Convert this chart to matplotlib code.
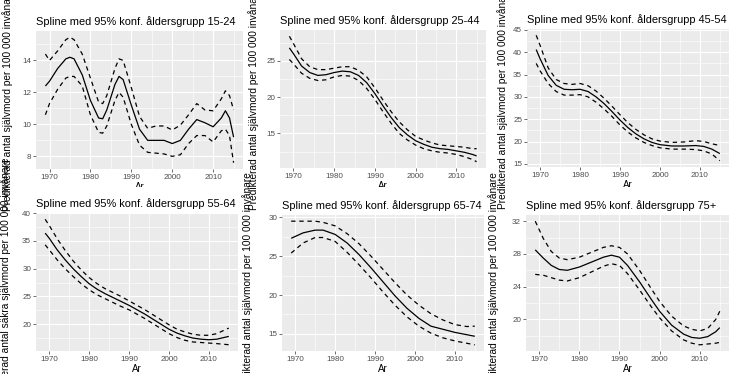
import matplotlib
matplotlib.use("Agg")
import matplotlib.pyplot as plt
from matplotlib.transforms import Bbox, TransformedBbox

plt.rcParams['font.family'] = ['Liberation Sans', 'DejaVu Sans']

# ---- data ----
years1524 = [1969, 1970, 1972, 1974, 1975, 1976, 1978, 1980, 1982, 1983, 1984, 1986, 1987, 1988, 1990,
             1992, 1994, 1996, 1998, 2000, 2002, 2004, 2006, 2008, 2010, 2012, 2013, 2014, 2015]
fit1524 = [12.4, 12.7, 13.5, 14.1, 14.2, 14.1, 13.1, 11.5, 10.4, 10.35, 10.9, 12.5, 13.0, 12.8, 11.2,
           9.7, 9.0, 9.0, 9.0, 8.8, 9.0, 9.7, 10.3, 10.1, 9.85, 10.4, 10.85, 10.4, 9.2]
upper1524 = [14.4, 14.0, 14.6, 15.3, 15.45, 15.3, 14.4, 12.9, 11.4, 11.3, 11.8, 13.5, 14.1, 14.0, 12.3,
             10.5, 9.75, 9.9, 9.9, 9.65, 9.95, 10.6, 11.3, 10.9, 10.85, 11.6, 12.1, 11.8, 10.9]
lower1524 = [10.6, 11.3, 12.2, 12.9, 13.0, 13.0, 12.4, 10.6, 9.5, 9.45, 9.9, 11.5, 12.0, 11.7, 10.0,
             8.7, 8.25, 8.2, 8.15, 8.0, 8.1, 8.8, 9.3, 9.3, 8.9, 9.6, 9.7, 9.3, 7.6]

years2544 = [1969, 1970, 1972, 1974, 1976, 1978, 1980, 1982, 1984, 1986, 1988, 1990, 1992, 1994, 1996,
             1998, 2000, 2002, 2004, 2006, 2008, 2010, 2012, 2014, 2015]
fit2544 = [26.8, 26.0, 24.3, 23.4, 23.0, 23.1, 23.4, 23.6, 23.5, 23.0, 22.0, 20.5, 18.8, 17.2, 15.8,
           14.8, 14.0, 13.5, 13.1, 12.9, 12.8, 12.6, 12.4, 12.1, 11.9]
upper2544 = [28.4, 27.4, 25.3, 24.2, 23.8, 23.8, 24.0, 24.2, 24.2, 23.7, 22.8, 21.3, 19.6, 18.0, 16.6,
             15.5, 14.6, 14.1, 13.7, 13.4, 13.3, 13.2, 13.1, 12.9, 12.9]
lower2544 = [25.2, 24.6, 23.3, 22.6, 22.3, 22.4, 22.8, 23.0, 22.9, 22.3, 21.2, 19.7, 18.0, 16.4, 15.0,
             14.1, 13.4, 12.9, 12.6, 12.4, 12.3, 12.1, 11.8, 11.4, 11.1]

years4554 = [1969, 1970, 1972, 1974, 1976, 1978, 1980, 1982, 1984, 1986, 1988, 1990, 1992, 1994, 1996,
             1998, 2000, 2003, 2006, 2009, 2011, 2013, 2015]
fit4554 = [40.6, 38.5, 34.8, 32.6, 31.7, 31.6, 31.7, 31.2, 30.0, 28.5, 26.7, 24.8, 23.1, 21.7, 20.6,
           19.8, 19.3, 19.0, 19.0, 19.1, 18.9, 18.3, 17.3]
upper4554 = [43.8, 41.5, 36.5, 33.9, 33.0, 32.8, 33.0, 32.5, 31.3, 29.7, 27.9, 26.0, 24.2, 22.7, 21.5,
             20.6, 20.1, 19.8, 19.9, 20.2, 20.0, 19.5, 19.1]
lower4554 = [37.5, 35.8, 33.0, 31.2, 30.4, 30.4, 30.5, 30.0, 28.8, 27.3, 25.6, 23.7, 22.1, 20.8, 19.8,
             19.1, 18.6, 18.3, 18.3, 18.2, 17.9, 17.2, 15.7]

years5564 = [1969, 1970, 1972, 1974, 1976, 1978, 1980, 1982, 1984, 1986, 1988, 1990, 1992, 1994, 1996,
             1998, 2000, 2002, 2004, 2006, 2008, 2010, 2012, 2015]
fit5564 = [36.4, 35.5, 33.4, 31.6, 30.0, 28.6, 27.3, 26.3, 25.5, 24.8, 24.1, 23.4, 22.6, 21.8, 20.9,
           20.0, 19.1, 18.4, 17.9, 17.5, 17.3, 17.2, 17.3, 17.8]
upper5564 = [38.9, 37.8, 35.4, 33.3, 31.4, 29.8, 28.4, 27.3, 26.4, 25.7, 25.0, 24.2, 23.4, 22.6, 21.7,
             20.8, 19.9, 19.1, 18.6, 18.2, 18.0, 18.0, 18.3, 19.3]
lower5564 = [34.3, 33.4, 31.6, 30.0, 28.6, 27.3, 26.2, 25.3, 24.6, 23.9, 23.2, 22.6, 21.8, 21.0, 20.1,
             19.2, 18.3, 17.6, 17.1, 16.8, 16.7, 16.6, 16.5, 16.3]

years6574 = [1969, 1972, 1975, 1977, 1980, 1983, 1986, 1989, 1992, 1995, 1998, 2001, 2004, 2007, 2010,
             2013, 2015]
fit6574 = [27.3, 28.0, 28.35, 28.35, 27.8, 26.7, 25.2, 23.5, 21.7, 19.9, 18.3, 17.0, 16.0, 15.6, 15.2,
           14.9, 14.7]
upper6574 = [29.5, 29.5, 29.5, 29.35, 28.9, 27.9, 26.6, 25.0, 23.3, 21.6, 20.0, 18.7, 17.6, 16.8, 16.2,
             15.95, 16.0]
lower6574 = [25.4, 26.7, 27.4, 27.4, 26.9, 25.5, 23.9, 22.2, 20.4, 18.7, 17.2, 16.0, 15.1, 14.5, 14.1,
             13.8, 13.6]

years75 = [1969, 1971, 1973, 1975, 1977, 1980, 1983, 1986, 1988, 1990, 1992, 1995, 1998, 2000, 2003,
           2006, 2008, 2010, 2012, 2014, 2015]
fit75 = [28.5, 27.5, 26.6, 26.1, 26.0, 26.4, 27.0, 27.6, 27.85, 27.6, 26.6, 24.6, 22.4, 21.0, 19.3,
         18.2, 17.8, 17.7, 17.9, 18.5, 19.0]
upper75 = [32.0, 29.9, 28.3, 27.5, 27.3, 27.6, 28.2, 28.8, 29.0, 28.8, 28.0, 26.0, 23.7, 22.2, 20.4,
           19.2, 18.8, 18.6, 18.9, 20.0, 21.0]
lower75 = [25.5, 25.4, 25.1, 24.8, 24.7, 25.1, 25.8, 26.5, 26.8, 26.6, 25.6, 23.6, 21.5, 20.2, 18.6,
           17.5, 17.1, 16.9, 17.0, 17.1, 17.2]

groups = ["15-24", "25-44", "45-54", "55-64", "65-74", "75+"]
yTicks1524 = [8, 10, 12, 14]
yTicks2544 = [15, 20, 25]
yTicks4554 = [15, 20, 25, 30, 35, 40, 45]
yTicks5564 = [20, 25, 30, 35, 40]
yTicks6574 = [15, 20, 25, 30]
yTicks75 = [20, 24, 28, 32]
xTicks = [1970, 1980, 1990, 2000, 2010]

yLabel = "Predikterad antal självmord per 100 000 invånare"
yLabelSakra = "Predikterad antal säkra självmord per 100 000 invånare"
xLabel = "Ar"

# ---- layout in pixels (left, top, right, bottom) ----
W, H = 729, 374
boxes = [(36, 31, 243, 169), (280, 30, 486, 168), (527, 29, 729, 167),
         (36, 213, 238, 351), (282, 215, 484, 351), (526, 215, 729, 351)]
yLabelX = [8, 254, 503, 6, 248, 494]

panels = [(years1524, fit1524, upper1524, lower1524, yTicks1524, yLabel),
          (years2544, fit2544, upper2544, lower2544, yTicks2544, yLabel),
          (years4554, fit4554, upper4554, lower4554, yTicks4554, yLabel),
          (years5564, fit5564, upper5564, lower5564, yTicks5564, yLabelSakra),
          (years6574, fit6574, upper6574, lower6574, yTicks6574, yLabel),
          (years75, fit75, upper75, lower75, yTicks75, yLabel)]

fig = plt.figure(figsize=(W / 100, H / 100), dpi=100)
fig.patch.set_facecolor("white")

topHalfClip = TransformedBbox(Bbox.from_extents(0, 0.5, 1, 1), fig.transFigure)

for i, (yrs, fit, up, lo, yt, ylab) in enumerate(panels):
    l, t, r, b = boxes[i]
    ax = fig.add_axes([l / W, 1 - b / H, (r - l) / W, (b - t) / H])
    ax.set_facecolor("#EBEBEB")
    for s in ax.spines.values():
        s.set_visible(False)

    ax.plot(yrs, fit, color="black", lw=0.9, solid_capstyle="butt")
    ax.plot(yrs, up, color="black", lw=0.9, linestyle=(0, (3.5, 3)))
    ax.plot(yrs, lo, color="black", lw=0.9, linestyle=(0, (3.5, 3)))

    lo_all = min(min(fit), min(up), min(lo))
    hi_all = max(max(fit), max(up), max(lo))
    pad = (hi_all - lo_all) * 0.05

    ax.set_xticks(xTicks)
    ax.set_xticks([1965, 1975, 1985, 1995, 2005, 2015], minor=True)
    ax.set_yticks(yt)
    step = yt[1] - yt[0]
    ax.set_yticks([v + step / 2 for v in [yt[0] - step] + yt], minor=True)
    ax.set_ylim(lo_all - pad, hi_all + pad)
    ax.set_xlim(1969 - 46 * 0.05, 2015 + 46 * 0.05)
    ax.grid(which="major", color="white", lw=0.8)
    ax.grid(which="minor", color="white", lw=0.4)
    ax.set_axisbelow(True)
    ax.tick_params(which="major", length=2, width=0.5, color="#333333",
                   labelsize=5.8, labelcolor="#4D4D4D", pad=1.5)
    ax.tick_params(which="minor", length=0)

    ax.set_title("Spline med 95% konf. åldersgrupp " + groups[i], loc="left",
                 fontsize=7.9, pad=4)
    ax.set_xlabel(xLabel, fontsize=7, labelpad=1)
    if i < 3:
        ax.xaxis.label.set_clip_box(topHalfClip)
        ax.xaxis.label.set_clip_on(True)

    cy = 1 - (t + b) / 2 / H
    fig.text(yLabelX[i] / W, cy, ylab, rotation=90, ha="center", va="center",
             fontsize=7.3, color="black")

fig.savefig("out.png", dpi=100)
